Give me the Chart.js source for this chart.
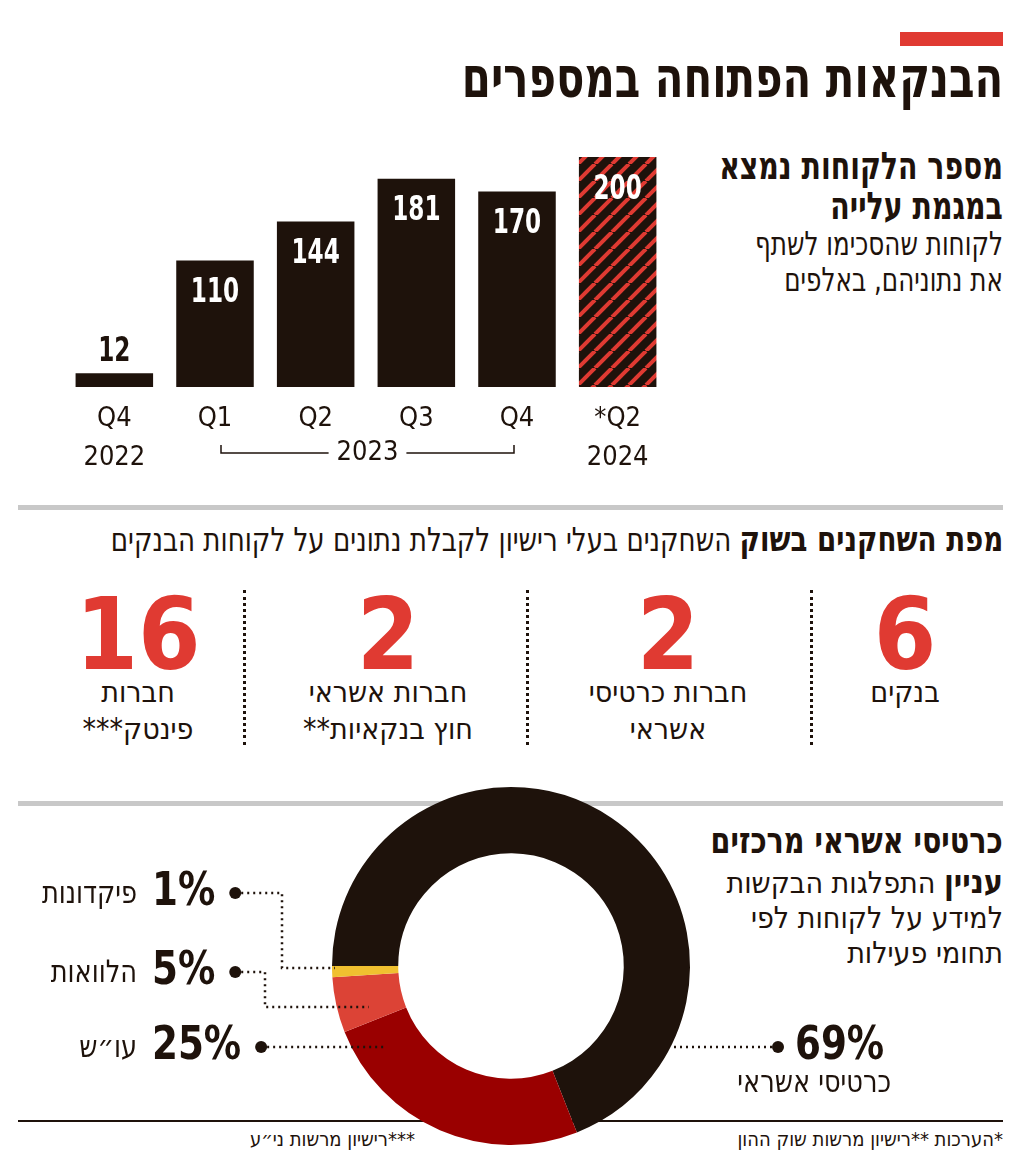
<!DOCTYPE html>
<html lang="he">
<head>
<meta charset="utf-8">
<script src="https://cdn.jsdelivr.net/npm/chart.js@4.4.1/dist/chart.umd.min.js"></script>
<style>
  body { margin: 0; background: #fff; width: 1024px; height: 1166px; position: relative; overflow: hidden;
         font-family: 'DejaVu Sans Condensed', 'Liberation Sans Narrow', sans-serif; color: #1e120b; }
  .abs { position: absolute; }
  .rtl { direction: rtl; text-align: right; }
  .narrow { transform-origin: right top; }
  .redbar { left: 900px; top: 32px; width: 103px; height: 14px; background: #e03a32; }
  .title { right: 21px; top: 46px; font-size: 56px; font-weight: bold; white-space: nowrap; line-height: 64px; transform: scaleX(0.83); }
  .sub1 { right: 21px; top: 146px; font-size: 38px; line-height: 40px; font-weight: bold; white-space: nowrap; transform: scaleX(0.83); }
  .sub1 span { font-weight: normal; font-size: 33px; line-height: 36px; display: block; }
  .rule { left: 18px; width: 985px; height: 5px; background: #c8c8c8; }
  .sec2 { right: 21px; top: 519px; font-size: 33px; white-space: nowrap; line-height: 40px; transform: scaleX(0.88); }
  .sec2 b { font-size: 35px; }
  .player { top: 585px; width: 240px; text-align: center; direction: rtl; }
  .player .num { font-size: 100px; font-weight: bold; color: #e03a32; line-height: 100px; }
  .player .lbl { font-size: 30px; line-height: 37px; margin-top: -12px; }
  .dots { top: 590px; height: 155px; width: 0; border-left: 3px dotted #1e120b; }
  .sec3 { right: 21px; top: 817px; font-size: 30px; line-height: 35px; }
  .sec3 .h { font-size: 37px; font-weight: bold; line-height: 48px; white-space: nowrap; transform: scaleX(0.86); transform-origin: right top; }
  .sec3 b { font-size: 32px; }
  .bline { left: 18px; width: 985px; height: 2px; top: 1120px; background: #1e120b; }
  .foot { top: 1127px; font-size: 20px; white-space: nowrap; }
</style>
</head>
<body>
<div class="abs redbar"></div>
<div class="abs title rtl narrow">הבנקאות הפתוחה במספרים</div>
<div class="abs sub1 rtl narrow">מספר הלקוחות נמצא<br>במגמת עלייה<span>לקוחות שהסכימו לשתף<br>את נתוניהם, באלפים</span></div>

<canvas id="barChart" class="abs" style="left:0;top:130px" width="700" height="350"></canvas>

<div class="abs rule" style="top:505px"></div>
<div class="abs sec2 rtl narrow"><b>מפת השחקנים בשוק</b> השחקנים בעלי רישיון לקבלת נתונים על לקוחות הבנקים</div>
<div id="players"></div>

<div class="abs rule" style="top:801px"></div>
<div class="abs sec3 rtl"><div class="h">כרטיסי אשראי מרכזים</div><b>עניין</b> התפלגות הבקשות<br>למידע על לקוחות לפי<br>תחומי פעילות</div>
<div class="abs bline"></div>
<div class="abs foot rtl" style="right:21px">*הערכות **רישיון מרשות שוק ההון</div>
<div class="abs foot rtl" style="right:609px">***רישיון מרשות ני״ע</div>

<canvas id="donutChart" class="abs" style="left:0;top:777px" width="1024" height="389"></canvas>

<script>
// bar chart: clients who agreed to share data (thousands)
const quarters = [['Q4', '2022'], 'Q1', 'Q2', 'Q3', 'Q4', ['*Q2', '2024']];
const clients = [12, 110, 144, 181, 170, 200];
const bracketYear = '2023';

// players in the market
const playerCounts = [6, 2, 2, 16];
const playerLabels = ['בנקים', 'חברות כרטיסי<br>אשראי', 'חברות אשראי<br>חוץ בנקאיות**', 'חברות<br>פינטק***'];

// requests by activity
const segLabels = ['כרטיסי אשראי', 'עו״ש', 'הלוואות', 'פיקדונות'];
const segValues = [69, 25, 5, 1];

const DARK = '#1e120b';
const RED = '#e03a32';
const NARROW = "'Liberation Sans Narrow', 'DejaVu Sans Condensed', sans-serif";

// players block
var centers = [905, 668, 388, 138];
var html = '';
playerCounts.forEach(function(n, i){
  html += '<div class="abs player" style="left:' + (centers[i] - 120) + 'px"><div class="num">' + n +
          '</div><div class="lbl">' + playerLabels[i] + '</div></div>';
});
[243, 526, 810].forEach(function(x){ html += '<div class="abs dots" style="left:' + x + 'px"></div>'; });
document.getElementById('players').innerHTML = html;

// stripes for the estimate bar
function stripes(){
  var c = document.createElement('canvas');
  c.width = 17; c.height = 17;
  var g = c.getContext('2d');
  g.fillStyle = DARK; g.fillRect(0, 0, 17, 17);
  g.strokeStyle = RED; g.lineWidth = 4;
  for (var k = -1; k <= 1; k++) {
    g.beginPath(); g.moveTo(k * 17, 17); g.lineTo(k * 17 + 17, 0); g.stroke();
  }
  return g.createPattern(c, 'repeat');
}

// condensed text helper
function narrowText(ctx, txt, x, y, sx){
  ctx.save();
  ctx.translate(x, y);
  ctx.scale(sx, 1);
  ctx.fillText(txt, 0, 0);
  ctx.restore();
}

const barLabels = {
  id: 'barLabels',
  afterDatasetsDraw(chart){
    var ctx = chart.ctx;
    var meta = chart.getDatasetMeta(0);
    ctx.save();
    ctx.font = 'bold 33px ' + NARROW;
    ctx.textAlign = 'center';
    ctx.textBaseline = 'middle';
    meta.data.forEach(function(bar, i){
      var v = clients[i];
      if (v < 50) { ctx.fillStyle = DARK; narrowText(ctx, v, bar.x, bar.y - 21, 0.78); }
      else { ctx.fillStyle = '#fff'; narrowText(ctx, v, bar.x, bar.y + 33, 0.78); }
    });
    // year bracket under 2023 quarters
    var x = chart.scales.x;
    var x1 = x.getPixelForValue(1) + 6, x2 = x.getPixelForValue(4) - 3, y = 323;
    var mid = (x1 + x2) / 2;
    ctx.font = '27px ' + NARROW;
    var tw = ctx.measureText(bracketYear).width / 2 + 8;
    ctx.strokeStyle = DARK; ctx.lineWidth = 1.5;
    ctx.beginPath();
    ctx.moveTo(x1, y - 8); ctx.lineTo(x1, y); ctx.lineTo(mid - tw, y);
    ctx.moveTo(mid + tw, y); ctx.lineTo(x2, y); ctx.lineTo(x2, y - 8);
    ctx.stroke();
    ctx.fillStyle = DARK;
    ctx.fillText(bracketYear, mid, y);
    ctx.restore();
  }
};

new Chart(document.getElementById('barChart'), {
  type: 'bar',
  data: {
    labels: quarters,
    datasets: [{
      data: clients,
      backgroundColor: clients.map(function(v, i){ return i === clients.length - 1 ? stripes() : DARK; }),
      borderWidth: 0,
      barPercentage: 0.77,
      categoryPercentage: 1
    }]
  },
  options: {
    responsive: false,
    animation: false,
    events: [],
    layout: { padding: { left: 64, right: 32, top: 27, bottom: 0 } },
    plugins: { legend: { display: false }, tooltip: { enabled: false } },
    scales: {
      x: {
        grid: { display: false, drawTicks: false },
        border: { display: false },
        ticks: { color: DARK, font: { family: NARROW, size: 27, lineHeight: 1.45 }, padding: 12, maxRotation: 0 },
        afterFit: function(s){ s.height = 93; }
      },
      y: { display: false, min: 0, max: 200 }
    }
  },
  plugins: [barLabels]
});

// callouts for the doughnut (label row y, elbow, target y, inset into ring)
const callouts = [
  { side: 'right', y: 1047, inset: 0 },
  { side: 'left', y: 1047, inset: 32 },
  { side: 'left', y: 972, elbow: 265, ty: 1007, inset: 32 },
  { side: 'left', y: 893, elbow: 282, ty: 968, inset: 3 }
];

const donutLabels = {
  id: 'donutLabels',
  afterDatasetsDraw(chart){
    var ctx = chart.ctx;
    var arc = chart.getDatasetMeta(0).data[0];
    var cx = arc.x, cy = arc.y, R = arc.outerRadius;
    var top = 777;
    ctx.save();
    ctx.fillStyle = DARK; ctx.strokeStyle = DARK;
    callouts.forEach(function(c, i){
      var y = c.y - top;
      var ty = (c.ty || c.y) - top;
      var dx = Math.sqrt(R * R - (ty - cy) * (ty - cy));
      var pct = segValues[i] + '%';
      ctx.font = 'bold 46px ' + NARROW;
      ctx.textBaseline = 'middle';
      var w = ctx.measureText(pct).width * 0.9;
      var dotX, endX;
      if (c.side === 'left') {
        ctx.textAlign = 'left';
        narrowText(ctx, pct, 152, y, 0.9);
        dotX = 152 + w + 20;
        endX = cx - dx + c.inset;
        ctx.font = '31px ' + NARROW;
        ctx.textAlign = 'right';
        narrowText(ctx, segLabels[i], 137, y + 2, 0.92);
      } else {
        ctx.textAlign = 'left';
        narrowText(ctx, pct, 795, y, 0.9);
        dotX = 778;
        endX = cx + dx - c.inset;
        ctx.font = '31px ' + NARROW;
        ctx.textAlign = 'right';
        narrowText(ctx, segLabels[i], 891, y + 37, 0.92);
      }
      ctx.beginPath(); ctx.arc(dotX, y, 6, 0, Math.PI * 2); ctx.fill();
      ctx.setLineDash([2, 4]); ctx.lineWidth = 2.5;
      ctx.beginPath();
      ctx.moveTo(dotX, y);
      if (c.elbow) { ctx.lineTo(c.elbow, y); ctx.lineTo(c.elbow, ty); }
      ctx.lineTo(endX, ty);
      ctx.stroke();
      ctx.setLineDash([]);
    });
    ctx.restore();
  }
};

new Chart(document.getElementById('donutChart'), {
  type: 'doughnut',
  data: {
    labels: segLabels,
    datasets: [{
      data: segValues,
      backgroundColor: [DARK, '#9a0000', '#dc4336', '#f0c030'],
      borderWidth: 0
    }]
  },
  options: {
    responsive: false,
    animation: false,
    events: [],
    rotation: -90,
    cutout: '63%',
    layout: { padding: { left: 332, right: 334, top: 10, bottom: 21 } },
    plugins: { legend: { display: false }, tooltip: { enabled: false } }
  },
  plugins: [donutLabels]
});
</script>
</body>
</html>
